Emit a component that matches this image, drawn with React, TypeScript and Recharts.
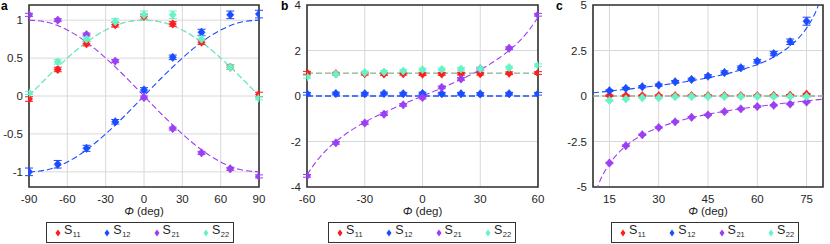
import React from "react";
import {
  ComposedChart,
  Line,
  Scatter,
  ErrorBar,
  XAxis,
  YAxis,
  CartesianGrid,
  ReferenceArea,
  Label,
} from "recharts";

// ── Colours / styles ───────────────────────────────────────────────────────

const RED = "#ff1c1c";
const BLUE = "#1c4cff";
const PURPLE = "#9c3ef3";
const GREEN = "#68f3c6";
const FONT = "'Liberation Sans', Arial, Helvetica, sans-serif";
const GRID = "#d8d8d8";
const FRAME = "#333333";
const TEXT = "#262626";

// ── Panel a data ───────────────────────────────────────────────────────────

const aPhi = [-90, -67.5, -45, -22.5, 0, 22.5, 45, 67.5, 90];
const aS11 = [-0.04, 0.35, 0.69, 0.94, 1.05, 0.95, 0.71, 0.38, 0.02];
const aS12 = [-1.0, -0.9, -0.69, -0.34, 0.08, 0.51, 0.84, 1.07, 1.08];
const aS21 = [1.07, 1.0, 0.81, 0.46, -0.02, -0.43, -0.75, -0.96, -1.06];
const aS22 = [0.04, 0.45, 0.75, 0.98, 1.07, 1.07, 0.75, 0.38, -0.03];
const aErr11 = [0.03, 0.03, 0.03, 0.03, 0.03, 0.03, 0.03, 0.03, 0.03];
const aErr12 = [0.05, 0.05, 0.04, 0.03, 0.03, 0.03, 0.04, 0.05, 0.05];
const aErr21 = [0.02, 0.02, 0.02, 0.02, 0.02, 0.02, 0.02, 0.02, 0.02];
const aErr22 = [0.02, 0.03, 0.03, 0.04, 0.05, 0.05, 0.04, 0.03, 0.02];

const aCurvePhi = [-90, -75, -60, -45, -30, -15, 0, 15, 30, 45, 60, 75, 90];
const aCurveDiag = [0, 0.26, 0.5, 0.71, 0.87, 0.97, 1, 0.97, 0.87, 0.71, 0.5, 0.26, 0];
const aCurve12 = [-1, -0.97, -0.87, -0.71, -0.5, -0.26, 0, 0.26, 0.5, 0.71, 0.87, 0.97, 1];
const aCurve21 = [1, 0.97, 0.87, 0.71, 0.5, 0.26, 0, -0.26, -0.5, -0.71, -0.87, -0.97, -1];

// ── Panel b data ───────────────────────────────────────────────────────────

const bPhi = [-60, -45, -30, -20, -10, 0, 10, 20, 30, 45, 60];
const bS11 = [1.02, 0.98, 0.98, 0.97, 0.98, 0.96, 0.97, 0.98, 0.98, 1.0, 1.01];
const bS12 = [0.1, 0.11, 0.1, 0.11, 0.1, 0.11, 0.1, 0.1, 0.09, 0.1, 0.1];
const bS21 = [-3.51, -2.06, -1.19, -0.8, -0.39, -0.07, 0.38, 0.75, 1.2, 2.1, 3.57];
const bS22 = [0.84, 0.96, 1.03, 1.06, 1.1, 1.16, 1.17, 1.19, 1.2, 1.25, 1.35];
const bErr = [0.06, 0.06, 0.06, 0.06, 0.06, 0.06, 0.06, 0.06, 0.06, 0.06, 0.06];

const bCurvePhi = [-60, -55, -50, -45, -40, -35, -30, -20, -10, 0, 10, 20, 30, 35, 40, 45, 50, 55, 60];
const bCurve21 = [-3.46, -2.86, -2.38, -2.0, -1.68, -1.4, -1.15, -0.73, -0.35, 0, 0.35, 0.73, 1.15, 1.4, 1.68, 2.0, 2.38, 2.86, 3.46];
const bLinePhi = [-60, 60];
const bLineDiag = [1, 1];
const bLine12 = [0, 0];

// ── Panel c data ───────────────────────────────────────────────────────────

const cPhi = [15, 20, 25, 30, 35, 40, 45, 50, 55, 60, 65, 70, 75];
const cS11 = [0.02, 0.02, 0.02, 0.02, 0.02, 0.02, 0.02, 0.02, 0.02, 0.02, 0.03, 0.04, 0.1];
const cS12 = [0.29, 0.42, 0.51, 0.6, 0.78, 0.91, 1.09, 1.29, 1.55, 1.91, 2.33, 2.98, 4.11];
const cS21 = [-3.68, -2.73, -2.13, -1.73, -1.42, -1.17, -1.04, -0.86, -0.71, -0.58, -0.51, -0.44, -0.33];
const cS22 = [-0.25, -0.16, -0.1, -0.1, -0.04, -0.03, -0.03, -0.03, -0.03, -0.03, -0.03, -0.03, -0.03];
const cErr12 = [0.05, 0.05, 0.06, 0.06, 0.07, 0.07, 0.08, 0.09, 0.1, 0.1, 0.12, 0.15, 0.22];
const cErr = [0.04, 0.04, 0.04, 0.04, 0.04, 0.04, 0.04, 0.04, 0.04, 0.04, 0.04, 0.04, 0.04];

const cCurvePhi = [10, 12.5, 15, 17.5, 20, 25, 30, 35, 40, 45, 50, 55, 60, 65, 70, 72.5, 75, 77.5, 80];
const cCurve12 = [0.18, 0.22, 0.27, 0.32, 0.36, 0.47, 0.58, 0.7, 0.84, 1.0, 1.19, 1.43, 1.73, 2.14, 2.75, 3.17, 3.73, 4.51, 5.67];
const cCurve21 = [-5.67, -4.51, -3.73, -3.17, -2.75, -2.14, -1.73, -1.43, -1.19, -1.0, -0.84, -0.7, -0.58, -0.47, -0.36, -0.32, -0.27, -0.22, -0.18];
const cLinePhi = [10, 80];
const cLineDiag = [0, 0];

// ── Helpers ────────────────────────────────────────────────────────────────

type Pt = { x: number; y: number; e: number };

const zip = (xs: number[], ys: number[], es?: number[]): Pt[] =>
  xs.map((x, i) => ({ x, y: ys[i], e: es ? es[i] : 0 }));

const diamond = (color: string, w = 3.6, h = 4.2) => (props: any) => {
  const { cx, cy } = props;
  if (cx == null || cy == null) return <g />;
  return (
    <polygon
      points={`${cx},${cy - h} ${cx + w},${cy} ${cx},${cy + h} ${cx - w},${cy}`}
      fill={color}
      stroke={color}
      strokeWidth={0.6}
    />
  );
};

const AxisTitle = (props: any) => {
  const vb = props.viewBox || {};
  return (
    <text
      x={vb.x + vb.width / 2}
      y={vb.y + 28}
      textAnchor="middle"
      fill={TEXT}
      fontSize={11.5}
      fontFamily={FONT}
    >
      <tspan fontStyle="italic">Φ</tspan> (deg)
    </text>
  );
};

interface Series {
  color: string;
  data: Pt[];
  width?: number;
}

interface PanelProps {
  letter: string;
  left: number;
  width: number;
  yAxisWidth: number;
  rightMargin: number;
  xDomain: [number, number];
  xTicks: number[];
  yDomain: [number, number];
  yTicks: number[];
  curves: Series[];
  points: Series[];
  legendLeft: number;
}

const LEGEND = [
  { color: RED, sub: "11" },
  { color: BLUE, sub: "12" },
  { color: PURPLE, sub: "21" },
  { color: GREEN, sub: "22" },
];

function LegendBox({ left }: { left: number }) {
  return (
    <div
      style={{
        position: "absolute",
        left,
        top: 222,
        width: 186,
        height: 19,
        border: "1px solid #333",
        background: "#fff",
        fontFamily: FONT,
        color: TEXT,
      }}
    >
      {LEGEND.map((l, i) => (
        <div
          key={l.sub}
          style={{ position: "absolute", left: 7 + i * 49.3, top: 0, height: 19, display: "flex", alignItems: "center" }}
        >
          <svg width={8} height={10} style={{ marginRight: 2 }}>
            <polygon points="4,1.5 6.5,5 4,8.5 1.5,5" fill={l.color} />
          </svg>
          <span style={{ fontSize: 12.5, lineHeight: "19px" }}>
            S<sub style={{ fontSize: 7.5, verticalAlign: "-3px", marginLeft: 0.5 }}>{l.sub}</sub>
          </span>
        </div>
      ))}
    </div>
  );
}

function Panel(p: PanelProps) {
  const tick = { fill: TEXT, fontSize: 11.5, fontFamily: FONT };
  const inner = { stroke: FRAME, strokeWidth: 1 };
  return (
    <div style={{ position: "absolute", left: p.left, top: 0, width: p.width, height: 244 }}>
      <ComposedChart width={p.width} height={222} margin={{ top: 5, right: p.rightMargin, bottom: 0, left: 0 }}>
        <CartesianGrid stroke={GRID} strokeWidth={1} />
        <XAxis
          type="number"
          dataKey="x"
          domain={p.xDomain}
          ticks={p.xTicks}
          interval={0}
          allowDataOverflow
          axisLine={false}
          tickLine={false}
          tickSize={0}
          tickMargin={8}
          height={35}
          tick={tick}
        >
          <Label content={AxisTitle} />
        </XAxis>
        {/* inward tick marks on all four sides, MATLAB style */}
        <XAxis xAxisId="top" orientation="top" type="number" domain={p.xDomain} ticks={p.xTicks} interval={0}
          allowDataOverflow mirror height={0} tickSize={3} tick={false} axisLine={false} tickLine={inner} />
        <XAxis xAxisId="bot" orientation="bottom" type="number" domain={p.xDomain} ticks={p.xTicks} interval={0}
          allowDataOverflow mirror height={0} tickSize={3} tick={false} axisLine={false} tickLine={inner} />
        <YAxis
          type="number"
          dataKey="y"
          domain={p.yDomain}
          ticks={p.yTicks}
          interval={0}
          allowDataOverflow
          axisLine={false}
          tickLine={false}
          tickSize={0}
          tickMargin={6}
          width={p.yAxisWidth}
          tick={tick}
        />
        <YAxis yAxisId="lft" orientation="left" type="number" domain={p.yDomain} ticks={p.yTicks} interval={0}
          allowDataOverflow mirror width={0} tickSize={3} tick={false} axisLine={false} tickLine={inner} />
        <YAxis yAxisId="rgt" orientation="right" type="number" domain={p.yDomain} ticks={p.yTicks} interval={0}
          allowDataOverflow mirror width={0} tickSize={3} tick={false} axisLine={false} tickLine={inner} />
        {p.curves.map((c, i) => (
          <Line
            key={`c${i}`}
            data={c.data}
            dataKey="y"
            type="monotone"
            stroke={c.color}
            strokeWidth={c.width ?? 1.1}
            strokeDasharray="6 3"
            dot={false}
            activeDot={false}
            isAnimationActive={false}
          />
        ))}
        {p.points.map((s, i) => (
          <Scatter key={`s${i}`} data={s.data} dataKey="y" shape={diamond(s.color)} isAnimationActive={false}>
            <ErrorBar dataKey="e" direction="y" width={4} stroke={s.color} strokeWidth={1} />
          </Scatter>
        ))}
        <ReferenceArea
          x1={p.xDomain[0]}
          x2={p.xDomain[1]}
          y1={p.yDomain[0]}
          y2={p.yDomain[1]}
          fill="none"
          stroke={FRAME}
          strokeWidth={1.6}
        />
      </ComposedChart>
      <div
        style={{
          position: "absolute",
          left: 1,
          top: 0,
          fontFamily: FONT,
          fontWeight: "bold",
          fontSize: 12,
          lineHeight: "12px",
          color: "#000",
        }}
      >
        {p.letter}
      </div>
      <LegendBox left={p.legendLeft} />
    </div>
  );
}

// ── App ────────────────────────────────────────────────────────────────────

export default function App() {
  return (
    <div style={{ position: "absolute", left: 0, top: 0, width: 830, height: 244, background: "#fff" }}>
      <Panel
        letter="a"
        left={0}
        width={270}
        yAxisWidth={29}
        rightMargin={11}
        xDomain={[-90, 90]}
        xTicks={[-90, -60, -30, 0, 30, 60, 90]}
        yDomain={[-1.2, 1.2]}
        yTicks={[-1, -0.5, 0, 0.5, 1]}
        curves={[
          { color: RED, data: zip(aCurvePhi, aCurveDiag), width: 0.6 },
          { color: BLUE, data: zip(aCurvePhi, aCurve12) },
          { color: PURPLE, data: zip(aCurvePhi, aCurve21) },
          { color: GREEN, data: zip(aCurvePhi, aCurveDiag), width: 1.3 },
        ]}
        points={[
          { color: RED, data: zip(aPhi, aS11, aErr11) },
          { color: BLUE, data: zip(aPhi, aS12, aErr12) },
          { color: PURPLE, data: zip(aPhi, aS21, aErr21) },
          { color: GREEN, data: zip(aPhi, aS22, aErr22) },
        ]}
        legendLeft={46}
      />
      <Panel
        letter="b"
        left={280}
        width={270}
        yAxisWidth={27}
        rightMargin={12}
        xDomain={[-60, 60]}
        xTicks={[-60, -30, 0, 30, 60]}
        yDomain={[-4, 4]}
        yTicks={[-4, -2, 0, 2, 4]}
        curves={[
          { color: RED, data: zip(bLinePhi, bLineDiag) },
          { color: BLUE, data: zip(bLinePhi, bLine12), width: 1.4 },
          { color: PURPLE, data: zip(bCurvePhi, bCurve21) },
          { color: GREEN, data: zip(bLinePhi, bLineDiag) },
        ]}
        points={[
          { color: RED, data: zip(bPhi, bS11, bErr) },
          { color: BLUE, data: zip(bPhi, bS12, bErr) },
          { color: PURPLE, data: zip(bPhi, bS21, bErr) },
          { color: GREEN, data: zip(bPhi, bS22, bErr) },
        ]}
        legendLeft={48}
      />
      <Panel
        letter="c"
        left={555}
        width={275}
        yAxisWidth={38}
        rightMargin={7}
        xDomain={[10, 80]}
        xTicks={[15, 30, 45, 60, 75]}
        yDomain={[-5, 5]}
        yTicks={[-5, -2.5, 0, 2.5, 5]}
        curves={[
          { color: RED, data: zip(cLinePhi, cLineDiag) },
          { color: BLUE, data: zip(cCurvePhi, cCurve12) },
          { color: PURPLE, data: zip(cCurvePhi, cCurve21) },
          { color: GREEN, data: zip(cLinePhi, cLineDiag) },
        ]}
        points={[
          { color: RED, data: zip(cPhi, cS11, cErr) },
          { color: BLUE, data: zip(cPhi, cS12, cErr12) },
          { color: PURPLE, data: zip(cPhi, cS21, cErr) },
          { color: GREEN, data: zip(cPhi, cS22, cErr) },
        ]}
        legendLeft={56}
      />
    </div>
  );
}
